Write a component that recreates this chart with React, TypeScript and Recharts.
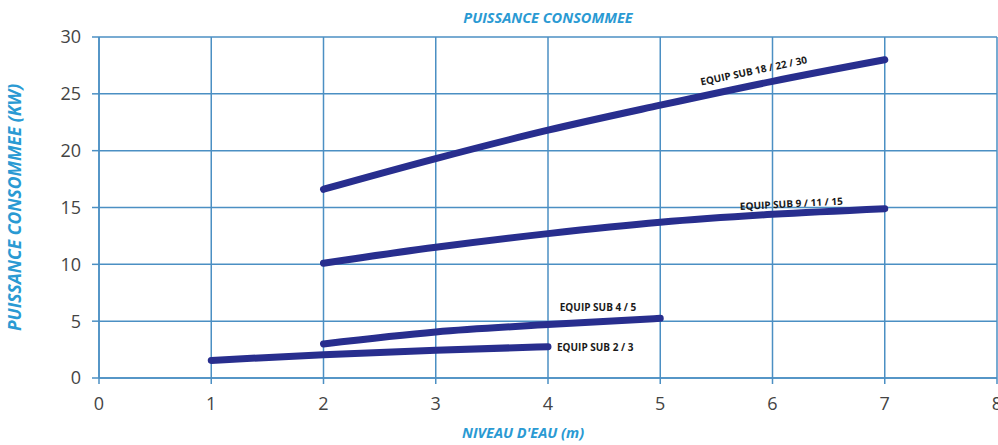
import React from 'react';
import { LineChart, Line, XAxis, YAxis, CartesianGrid, Label } from 'recharts';

const levels = [1, 2, 3, 4, 5, 6, 7];
const sub18 = [null, 16.6, 19.3, 21.8, 24.0, 26.1, 28.0];
const sub9 = [null, 10.1, 11.5, 12.7, 13.7, 14.4, 14.9];
const sub4 = [null, 3.0, 4.05, 4.7, 5.25, null, null];
const sub2 = [1.55, 2.05, 2.45, 2.75, null, null, null];
const xTicks = [0, 1, 2, 3, 4, 5, 6, 7, 8];
const yTicks = [0, 5, 10, 15, 20, 25, 30];

const data = levels.map((x, i) => ({
  x,
  sub18: sub18[i],
  sub9: sub9[i],
  sub4: sub4[i],
  sub2: sub2[i],
}));

const BLUE = '#4b8fc3';
const NAVY = '#282e8e';
const TITLE = '#2a9ad3';
const FONT = '"Open Sans", "Noto Sans", sans-serif';

// draws the series name next to one point of the line
const seriesLabel = (at: number, text: string, dx: number, dy: number, angle: number, anchor = 'middle') =>
  (props: any) => {
    if (props.index !== at) return null;
    const x = props.x + dx;
    const y = props.y + dy;
    return (
      <text
        x={x}
        y={y}
        textAnchor={anchor}
        fontSize={10}
        fontWeight={700}
        fontFamily={FONT}
        fill="#1a1a1a"
        transform={`rotate(${angle} ${x} ${y})`}
      >
        {text}
      </text>
    );
  };

export default function App() {
  return (
    <div style={{ position: 'absolute', left: 0, top: 0, width: 998, height: 445, background: '#fff' }}>
      <div
        style={{
          position: 'absolute', left: 0, width: 1096, top: 8, textAlign: 'center',
          fontFamily: FONT, fontStyle: 'italic', fontWeight: 700, fontSize: 14.5, color: TITLE,
        }}
      >
        PUISSANCE CONSOMMEE
      </div>
      <LineChart width={998} height={445} data={data} margin={{ top: 37, right: 1, bottom: 0, left: 0 }}>
        <CartesianGrid stroke={BLUE} strokeWidth={1.5} horizontalValues={yTicks} verticalValues={xTicks} />
        <XAxis
          dataKey="x"
          type="number"
          domain={[0, 8]}
          ticks={xTicks}
          height={67}
          stroke={BLUE}
          strokeWidth={1.5}
          tickSize={6}
          tickMargin={13}
          tick={{ fill: '#444', fontSize: 18, fontFamily: FONT }}
          interval={0}
        >
          <Label
            value="NIVEAU D'EAU (m)"
            position="insideBottom"
            offset={7}
            dx={-25}
            style={{ fill: TITLE, fontStyle: 'italic', fontWeight: 700, fontSize: 14.5, fontFamily: FONT }}
          />
        </XAxis>
        <YAxis
          type="number"
          domain={[0, 30]}
          ticks={yTicks}
          width={99}
          stroke={BLUE}
          strokeWidth={1.5}
          tickSize={7}
          tickMargin={11}
          tick={{ fill: '#444', fontSize: 18, fontFamily: FONT }}
        >
          <Label
            value="PUISSANCE CONSOMMEE (KW)"
            angle={-90}
            position="insideLeft"
            offset={15}
            style={{ textAnchor: 'middle', fill: TITLE, fontStyle: 'italic', fontWeight: 700, fontSize: 17.5, fontFamily: FONT }}
          />
        </YAxis>
        <Line
          dataKey="sub18"
          type="monotone"
          stroke={NAVY}
          strokeWidth={7}
          strokeLinecap="round"
          dot={false}
          isAnimationActive={false}
          label={seriesLabel(5, 'EQUIP SUB 18 / 22 / 30', -18, -7, -12)}
        />
        <Line
          dataKey="sub9"
          type="monotone"
          stroke={NAVY}
          strokeWidth={7}
          strokeLinecap="round"
          dot={false}
          isAnimationActive={false}
          label={seriesLabel(5, 'EQUIP SUB 9 / 11 / 15', 19, -7, -3)}
        />
        <Line
          dataKey="sub4"
          type="monotone"
          stroke={NAVY}
          strokeWidth={7}
          strokeLinecap="round"
          dot={false}
          isAnimationActive={false}
          label={seriesLabel(3, 'EQUIP SUB 4 / 5', 50, -14, 0)}
        />
        <Line
          dataKey="sub2"
          type="monotone"
          stroke={NAVY}
          strokeWidth={7}
          strokeLinecap="round"
          dot={false}
          isAnimationActive={false}
          label={seriesLabel(3, 'EQUIP SUB 2 / 3', 9, 4, 0, 'start')}
        />
      </LineChart>
    </div>
  );
}
